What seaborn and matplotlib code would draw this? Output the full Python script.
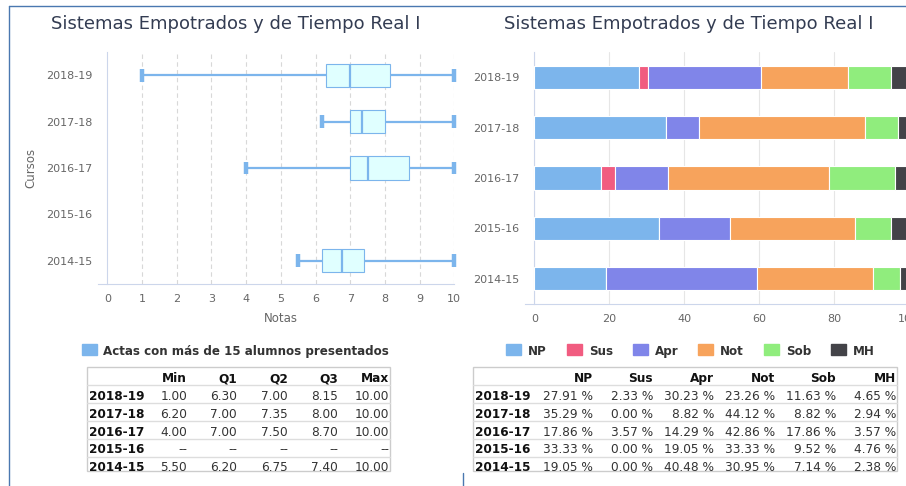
import numpy as np
import pandas as pd
import seaborn as sns
import matplotlib.pyplot as plt
from matplotlib.patches import Rectangle
from matplotlib.lines import Line2D

titulo = "Sistemas Empotrados y de Tiempo Real I"
cursos = ["2018-19", "2017-18", "2016-17", "2015-16", "2014-15"]

# resumen de notas (2015-16 sin actas)
nota_min = [1.00, 6.20, 4.00, np.nan, 5.50]
nota_q1 = [6.30, 7.00, 7.00, np.nan, 6.20]
nota_q2 = [7.00, 7.35, 7.50, np.nan, 6.75]
nota_q3 = [8.15, 8.00, 8.70, np.nan, 7.40]
nota_max = [10.00, 10.00, 10.00, np.nan, 10.00]

# porcentajes por calificacion
califs = ["NP", "Sus", "Apr", "Not", "Sob", "MH"]
pct_np = [27.91, 35.29, 17.86, 33.33, 19.05]
pct_sus = [2.33, 0.00, 3.57, 0.00, 0.00]
pct_apr = [30.23, 8.82, 14.29, 19.05, 40.48]
pct_not = [23.26, 44.12, 42.86, 33.33, 30.95]
pct_sob = [11.63, 8.82, 17.86, 9.52, 7.14]
pct_mh = [4.65, 2.94, 3.57, 4.76, 2.38]
colores = ["#7cb5ec", "#f15c80", "#8085e9", "#f7a35c", "#90ed7d", "#434348"]

W, H = 906, 486
def fx(x):
    return x / W
def fy(y):
    return 1 - y / H

sns.set_style("white")
plt.rcParams["font.family"] = ["DejaVu Sans"]
fig = plt.figure(figsize=(9.06, 4.86), dpi=100)

axis_col = "#ccd6eb"
txt_col = "#666666"
title_col = "#333c52"

# ---------------- boxplot ----------------
ax1 = fig.add_axes([fx(107.3), fy(284), fx(454.3) - fx(107.3), fy(52) - fy(284)])
rows = []
for i, c in enumerate(cursos):
    vals = [nota_min[i], nota_q1[i], nota_q2[i], nota_q3[i], nota_max[i]]
    for v in vals:
        if not np.isnan(v):
            rows.append((c, v))
df_box = pd.DataFrame(rows, columns=["curso", "nota"])

sns.boxplot(data=df_box, x="nota", y="curso", order=cursos, orient="y",
            whis=(0, 100), width=0.5, linecolor="#7cb5ec", linewidth=1.44,
            boxprops=dict(facecolor="#e0ffff", edgecolor="#7cb5ec", linewidth=0.8),
            medianprops=dict(color="#7cb5ec", linewidth=1.6),
            whiskerprops=dict(color="#7cb5ec", linewidth=1.6),
            capprops=dict(color="#7cb5ec", linewidth=3.2, solid_capstyle="butt"),
            ax=ax1, zorder=3)
for ln in ax1.lines:
    xd, yd = ln.get_xdata(), ln.get_ydata()
    if len(xd) == 2 and xd[0] == xd[1] and abs(yd[1] - yd[0]) < 0.45:
        m = (yd[0] + yd[1]) / 2
        ln.set_ydata([m - 0.14, m + 0.14])
        ln.set_clip_on(False)

ax1.set_xlim(0, 10)
ax1.set_ylim(4.5, -0.5)
ax1.set_xticks(range(0, 11))
for v in range(1, 11):
    ax1.axvline(v, color="#d8d8d8", lw=0.8, ls=(0, (4, 3)), zorder=0)
ax1.set_xlabel("Notas", color=txt_col, fontsize=8.5, labelpad=6)
ax1.set_ylabel("Cursos", color=txt_col, fontsize=8.5, labelpad=6)

# ---------------- stacked bars ----------------
ax2 = fig.add_axes([fx(534.3), fy(304), fx(908.8) - fx(534.3), fy(52) - fy(304)])
series = [pct_np, pct_sus, pct_apr, pct_not, pct_sob, pct_mh]
acum = np.zeros(len(cursos))
for nombre, vals, col in zip(califs, series, colores):
    sns.barplot(x=vals, y=cursos, orient="y", left=acum, color=col, width=0.46,
                saturation=1, edgecolor="white", linewidth=0.8, ax=ax2, zorder=3,
                label=nombre)
    acum = acum + np.array(vals)
ax2.set_xlim(0, 100)
ax2.set_ylim(4.5, -0.5)
ax2.set_xticks(range(0, 101, 20))
for v in range(0, 101, 20):
    ax2.axvline(v, color="#e6e6e6", lw=0.8, zorder=0)
ax2.set_xlabel("")
ax2.set_ylabel("")
if ax2.get_legend() is not None:
    ax2.get_legend().remove()

for ax in (ax1, ax2):
    for s in ("top", "right"):
        ax.spines[s].set_visible(False)
    ax.spines["left"].set_color(axis_col)
    ax.spines["bottom"].set_color(axis_col)
    ax.spines["left"].set_linewidth(0.8)
    ax.spines["bottom"].set_linewidth(0.8)
    lo, hi = ax.get_xlim()
    ax.spines["bottom"].set_bounds(lo - (hi - lo) * 0.026, hi)
    ax.tick_params(axis="y", which="major", length=0, pad=11, labelsize=8, labelcolor=txt_col)
    ax.tick_params(axis="x", which="major", length=0, pad=7, labelsize=8, labelcolor=txt_col)
    ax.set_yticks(np.arange(-0.5, 5, 1), minor=True)
    ax.tick_params(axis="y", which="minor", length=9, width=0.8, color=axis_col)
    ax.set_title("")

fig.text(fx(236), fy(24), titulo, ha="center", va="center", fontsize=13, color=title_col)
fig.text(fx(689), fy(24), titulo, ha="center", va="center", fontsize=13, color=title_col)

# ---------------- frame ----------------
frame_col = "#4a78b0"
fig.add_artist(Line2D([fx(9), 1], [fy(6), fy(6)], color=frame_col, lw=1))
fig.add_artist(Line2D([fx(9), fx(9)], [fy(6), 0], color=frame_col, lw=1))
fig.add_artist(Line2D([fx(463), fx(463)], [fy(473), 0], color=frame_col, lw=1))

# ---------------- legends ----------------
leg_col = "#333333"
fig.add_artist(Rectangle((fx(82), fy(355)), fx(15), fy(344) - fy(355), color=colores[0]))
fig.text(fx(103), fy(350), "Actas con más de 15 alumnos presentados", ha="left",
         va="center_baseline", fontsize=8.6, fontweight="bold", color=leg_col)
leg_x = [506, 567, 633, 698, 764, 831]
for lx, nombre, col in zip(leg_x, califs, colores):
    fig.add_artist(Rectangle((fx(lx), fy(355)), fx(15), fy(344) - fy(355), color=col))
    fig.text(fx(lx + 22), fy(350), nombre, ha="left", va="center_baseline",
             fontsize=8.6, fontweight="bold", color=leg_col)

# ---------------- tables ----------------
row_y = [377, 394.5, 412.5, 430.5, 448, 465.5]
line_y = [385, 403, 421, 439, 457]
grid_col = "#dddddd"

def tabla(x0, x1, col_right, header, cuerpo):
    fig.add_artist(Rectangle((fx(x0), fy(471)), fx(x1) - fx(x0), fy(367) - fy(471),
                             fill=False, edgecolor="#cccccc", lw=1))
    for ly in line_y:
        fig.add_artist(Line2D([fx(x0), fx(x1)], [fy(ly), fy(ly)], color=grid_col, lw=1))
    for cx, h in zip(col_right, header):
        fig.text(fx(cx), fy(row_y[0]), h, ha="right", va="center_baseline", fontsize=8.7,
                 fontweight="bold", color="#111111")
    for r, c in enumerate(cursos):
        fig.text(fx(x0 + 2), fy(row_y[r + 1]), c, ha="left", va="center_baseline",
                 fontsize=8.7, fontweight="bold", color="#111111")
        for cx, txt in zip(col_right, cuerpo[r]):
            fig.text(fx(cx), fy(row_y[r + 1]), txt, ha="right", va="center_baseline",
                     fontsize=8.7, color="#333333")

cuerpo_box = []
for i in range(len(cursos)):
    vals = [nota_min[i], nota_q1[i], nota_q2[i], nota_q3[i], nota_max[i]]
    cuerpo_box.append(["--" if np.isnan(v) else f"{v:.2f}" for v in vals])
tabla(87, 390, [187, 237, 288, 338, 389], ["Min", "Q1", "Q2", "Q3", "Max"], cuerpo_box)

cuerpo_pct = []
for i in range(len(cursos)):
    cuerpo_pct.append([f"{s[i]:.2f} %" for s in series])
tabla(473, 897, [593, 653, 714, 775, 836, 896], califs, cuerpo_pct)

fig.savefig("out.png", dpi=100)
